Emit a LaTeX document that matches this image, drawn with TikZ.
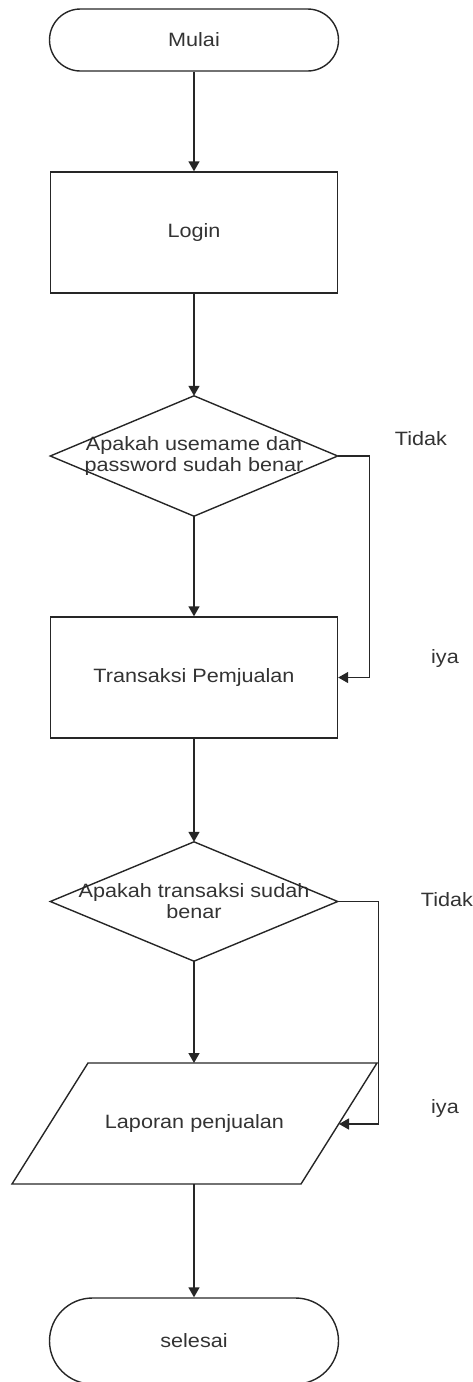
\documentclass[tikz,border=0pt]{standalone}
\usepackage{fontspec}
\setmainfont{Liberation Sans}[FakeStretch=1.12]
\usetikzlibrary{arrows.meta,shapes.misc,calc}
\tikzset{
  x=1pt, y=-1pt,
  line/.style={draw=black!85, line width=1.4pt},
  arr/.style={line, -{Triangle[width=11pt,length=10pt]}},
  txt/.style={text=black!80, font=\fontsize{19.3}{21}\selectfont, align=center, inner sep=0pt},
  term/.style={line, txt, rounded rectangle, minimum width=289pt, inner sep=0pt},
  procbox/.style={line, txt, rectangle, minimum width=287pt},
  holder/.style={txt, rectangle, minimum width=287pt},
  lbl/.style={txt}
}
\begin{document}
\begin{tikzpicture}
\useasboundingbox (0,0) rectangle (473,1382);
% nodes
\node[term, minimum height=62pt] (mulai) at (194,40) {Mulai};
\node[procbox, minimum height=121pt] (login) at (194,232.5) {Login};
\node[holder, minimum height=120pt] (d1) at (194,456) {Apakah usemame dan\\password sudah benar};
\draw[line] (d1.north) -- (d1.east) -- (d1.south) -- (d1.west) -- cycle;
\node[procbox, minimum height=121pt] (trans) at (194,677.5) {Transaksi Pemjualan};
\node[holder, minimum height=119pt] (d2) at (194,901.5) {Apakah transaksi sudah\\benar};
\draw[line] (d2.north) -- (d2.east) -- (d2.south) -- (d2.west) -- cycle;
\node[txt, minimum width=289pt, minimum height=121pt] (lap) at (194.5,1123.5) {Laporan penjualan};
\coordinate (lapTL) at (88,1063);
\coordinate (lapTR) at (377,1063);
\coordinate (lapBR) at (301,1184);
\coordinate (lapBL) at (12,1184);
\draw[line] (lapTL) -- (lapTR) -- (lapBR) -- (lapBL) -- cycle;
\coordinate (lapTop) at (194,1063);
\coordinate (lapBot) at (194,1184);
\coordinate (lapR) at (339,1124);
\node[term, minimum height=86pt] (selesai) at (194,1341) {selesai};
% labels
\node[lbl] (t1) at (421,439) {Tidak};
\node[lbl] (i1) at (445,658) {iya};
\node[lbl] (t2) at (447,900) {Tidak};
\node[lbl] (i2) at (445,1108) {iya};
% connectors
\draw[arr] (mulai.south) -- (login.north);
\draw[arr] (login.south) -- (d1.north);
\draw[arr] (d1.south) -- (trans.north);
\draw[arr] (d1.east) -- ++(32,0) |- (trans.east);
\draw[arr] (trans.south) -- (d2.north);
\draw[arr] (d2.south) -- (lapTop);
\draw[arr] (d2.east) -- ++(41,0) |- (lapR);
\draw[arr] (lapBot) -- (selesai.north);
\end{tikzpicture}
\end{document}
